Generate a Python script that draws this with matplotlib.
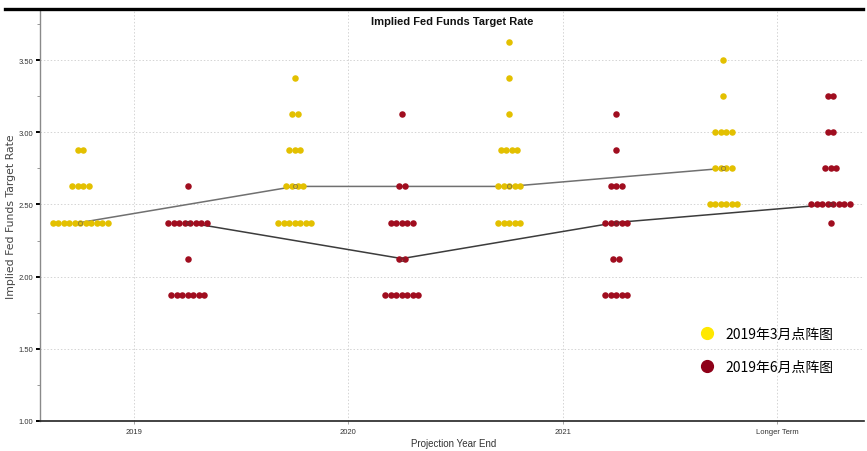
import matplotlib

matplotlib.use("Agg")
import matplotlib.pyplot as plt  # noqa: E402
from matplotlib import font_manager  # noqa: E402
from matplotlib.lines import Line2D  # noqa: E402
from matplotlib.ticker import MultipleLocator, FormatStrFormatter  # noqa: E402

# ---------------- data ----------------
CATEGORIES = ["2019", "2020", "2021", "Longer Term"]

# March 2019 dot plot: rate levels and number of participants at each level
MAR_RATES = [[2.875, 2.625, 2.375],
             [3.375, 3.125, 2.875, 2.625, 2.375],
             [3.625, 3.375, 3.125, 2.875, 2.625, 2.375],
             [3.50, 3.25, 3.00, 2.75, 2.50]]
MAR_COUNTS = [[2, 4, 11],
              [1, 2, 3, 4, 7],
              [1, 1, 1, 4, 5, 5],
              [1, 1, 4, 4, 6]]
MAR_MEDIAN = [2.375, 2.625, 2.625, 2.75]

# June 2019 dot plot
JUN_RATES = [[2.625, 2.375, 2.125, 1.875],
             [3.125, 2.625, 2.375, 2.125, 1.875],
             [3.125, 2.875, 2.625, 2.375, 2.125, 1.875],
             [3.25, 3.00, 2.75, 2.50, 2.375]]
JUN_COUNTS = [[1, 8, 1, 7],
              [1, 2, 5, 2, 7],
              [1, 1, 3, 5, 2, 5],
              [2, 2, 3, 8, 1]]
JUN_MEDIAN = [2.375, 2.125, 2.375, 2.50]

LABELS = ["2019年3月点阵图", "2019年6月点阵图"]

# ---------------- style ----------------
YELLOW = "#e3c000"
RED = "#a00d1f"
W, H = 867, 452
GROUP_SHIFT = 0.25      # march left of tick, june right of tick
DOT_STEP = 0.0257       # horizontal spacing of stacked dots

names = {f.name for f in font_manager.fontManager.ttflist}
NARROW = "Liberation Sans Narrow" if "Liberation Sans Narrow" in names else "Liberation Sans"


def expand(rates, counts, shift):
    xs, ys = [], []
    for i, (rr, cc) in enumerate(zip(rates, counts)):
        for r, n in zip(rr, cc):
            for j in range(n):
                xs.append(i + shift + (j - (n - 1) / 2) * DOT_STEP)
                ys.append(r)
    return xs, ys


fig = plt.figure(figsize=(W / 100, H / 100), dpi=100)
ax = fig.add_axes([40 / W, 1 - 422 / H, 824 / W, 412 / H])

xm, ym = expand(MAR_RATES, MAR_COUNTS, -GROUP_SHIFT)
xj, yj = expand(JUN_RATES, JUN_COUNTS, GROUP_SHIFT)
pos = range(len(CATEGORIES))

ax.plot([p - GROUP_SHIFT for p in pos], MAR_MEDIAN, color="#707070", lw=1.1, zorder=2)
ax.plot([p + GROUP_SHIFT for p in pos], JUN_MEDIAN, color="#3c3c3c", lw=1.1, zorder=2)
ax.scatter(xm, ym, s=22, color=YELLOW, linewidths=0, zorder=3)
ax.scatter(xj, yj, s=22, color=RED, linewidths=0, zorder=3)
ax.plot([p - GROUP_SHIFT for p in pos], MAR_MEDIAN, ls="none", marker="o", ms=3,
        mfc="none", mec="#8a7a40", mew=0.6, zorder=4)
ax.plot([p + GROUP_SHIFT for p in pos], JUN_MEDIAN, ls="none", marker="o", ms=3,
        mfc="none", mec="#6a2a30", mew=0.6, zorder=4)

ax.set_xlim(-0.4386, 3.406)
ax.set_ylim(1.0, 3.854)
ax.set_xticks(list(pos))
ax.set_xticklabels(CATEGORIES, family=NARROW, fontsize=5.5, color="#333333")
ax.yaxis.set_major_locator(MultipleLocator(0.5))
ax.yaxis.set_minor_locator(MultipleLocator(0.25))
ax.yaxis.set_major_formatter(FormatStrFormatter("%.2f"))
for t in ax.get_yticklabels():
    t.set_family(NARROW)
    t.set_fontsize(5.5)
    t.set_color("#333333")
ax.tick_params(axis="y", which="major", length=3, width=1.4, color="black", pad=2)
ax.tick_params(axis="y", which="minor", length=2, width=0.6, color="#888888")
ax.tick_params(axis="x", length=2, width=0.6, color="#999999", pad=3)

ax.grid(True, axis="both", which="major", ls=(0, (1.5, 2)), color="#d4d4d4", lw=0.7)
ax.set_axisbelow(True)
for s in ("top", "right"):
    ax.spines[s].set_visible(False)
ax.spines["left"].set_color("#8a8a8a")
ax.spines["left"].set_linewidth(1.0)
ax.spines["bottom"].set_color("#222222")
ax.spines["bottom"].set_linewidth(1.2)

# texts
fig.text(452 / W, 1 - 22 / H, "Implied Fed Funds Target Rate", ha="center", va="center",
         family=NARROW, fontweight="bold", fontsize=8, color="#111111")
fig.text(11 / W, 1 - 217 / H, "Implied Fed Funds Target Rate", rotation=90,
         ha="center", va="center", fontsize=7.8, color="#444444")
fig.text(454 / W, 1 - 444 / H, "Projection Year End", ha="center", va="center",
         family=NARROW, fontsize=7, color="#333333")

# thick top rule
fig.add_artist(Line2D([5 / W, 863 / W], [1 - 9.5 / H, 1 - 9.5 / H], color="black",
                      lw=2.4, transform=fig.transFigure))

handles = [Line2D([], [], ls="none", marker="o", ms=8.5, color="#ffe800"),
           Line2D([], [], ls="none", marker="o", ms=8.5, color="#8e0018")]
fig.legend(handles, LABELS, loc="upper left", bbox_to_anchor=(0.793, 0.303),
           bbox_transform=fig.transFigure, frameon=False, handlelength=1.0,
           handletextpad=0.8, labelspacing=1.4,
           prop={"family": ["Noto Sans CJK SC", "DejaVu Sans"], "size": 10})

fig.savefig("out.png", dpi=100)
